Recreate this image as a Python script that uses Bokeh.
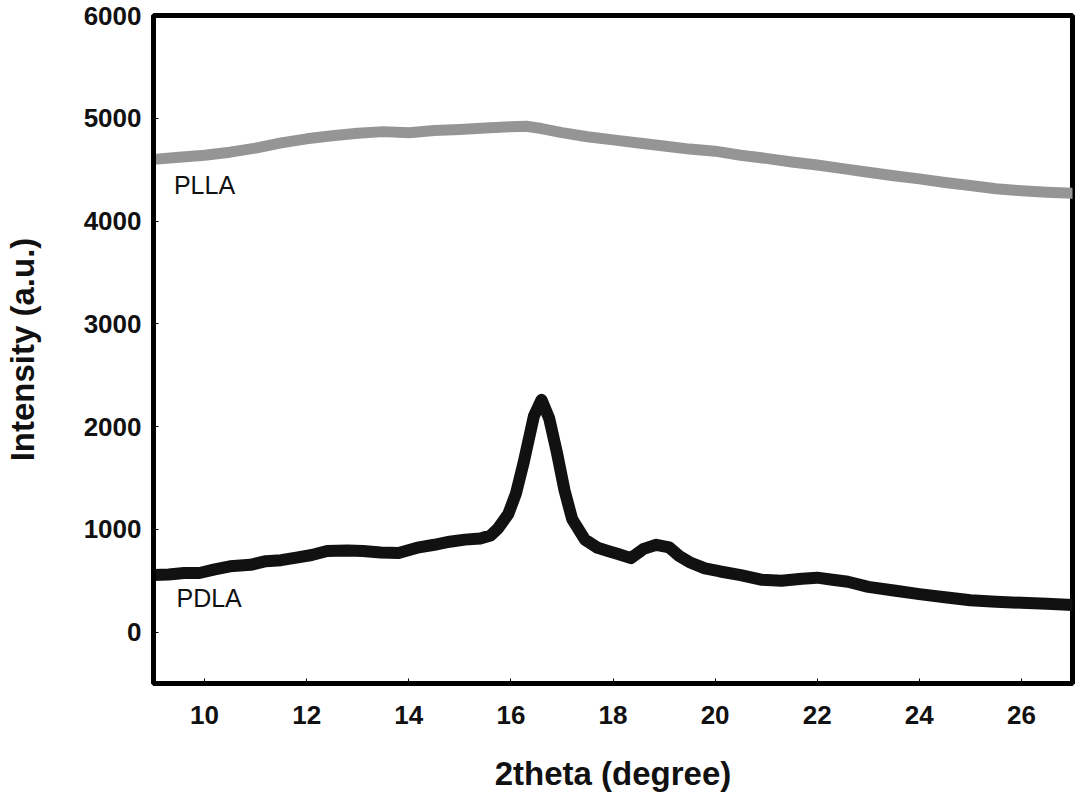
from bokeh.plotting import figure
from bokeh.models import Range1d, FixedTicker, Label
from bokeh.embed import file_html
from bokeh.resources import INLINE

# Data
plla_x = [9.0, 9.5, 10.0, 10.5, 11.0, 11.5, 12.0, 12.5, 13.0, 13.5, 14.0, 14.5, 15.0, 15.5,
          16.0, 16.3, 16.6, 17.0, 17.5, 18.0, 18.5, 19.0, 19.5, 20.0, 20.5, 21.0, 21.5, 22.0,
          22.5, 23.0, 23.5, 24.0, 24.5, 25.0, 25.5, 26.0, 26.5, 27.0]
plla_y = [4600, 4620, 4640, 4670, 4710, 4760, 4800, 4830, 4855, 4870, 4860, 4880, 4890, 4905,
          4918, 4922, 4900, 4860, 4820, 4790, 4760, 4730, 4700, 4680, 4640, 4610, 4575, 4545,
          4510, 4475, 4440, 4410, 4375, 4345, 4315, 4295, 4280, 4270]

pdla_x = [9.0, 9.3, 9.6, 9.9, 10.2, 10.5, 10.9, 11.2, 11.5, 11.8,
          12.1, 12.4, 12.8, 13.1, 13.45, 13.8, 14.2, 14.5, 14.8, 15.1,
          15.4, 15.6, 15.75, 15.95, 16.1, 16.25, 16.45, 16.6, 16.75, 16.9,
          17.05, 17.2, 17.45, 17.7, 17.9, 18.1, 18.35, 18.6, 18.85, 19.1,
          19.3, 19.5, 19.8, 20.1, 20.5, 20.9, 21.3, 21.7, 22.0, 22.3,
          22.6, 23.0, 23.5, 24.0, 24.5, 25.0, 25.5, 26.0, 26.5, 27.0]
pdla_y = [555, 560, 575, 575, 610, 640, 655, 690, 700, 725,
          750, 790, 795, 790, 775, 770, 825, 850, 880, 900,
          910, 940, 1010, 1150, 1350, 1650, 2100, 2260, 2080, 1750,
          1380, 1100, 900, 820, 790, 760, 720, 810, 850, 825,
          740, 680, 620, 590, 555, 510, 500, 520, 530, 510,
          490, 440, 405, 370, 340, 310, 295, 285, 275, 265]

x_ticks = [10, 12, 14, 16, 18, 20, 22, 24, 26]
y_ticks = [0, 1000, 2000, 3000, 4000, 5000, 6000]

FONT = "Liberation Sans"

p = figure(width=1076, height=795, output_backend="svg", toolbar_location=None,
           x_range=Range1d(9, 27), y_range=Range1d(-500, 6000),
           min_border_left=144, min_border_top=15, min_border_right=4, min_border_bottom=112)

p.line(plla_x, plla_y, line_color="#959595", line_width=11, line_join="round", line_cap="round")
p.line(pdla_x, pdla_y, line_color="#111111", line_width=12, line_join="round", line_cap="round")

p.add_layout(Label(x=9.4, y=4350, text="PLLA", text_font=FONT, text_font_size="25px",
                   text_baseline="middle", text_color="#111111"))
p.add_layout(Label(x=9.45, y=330, text="PDLA", text_font=FONT, text_font_size="25px",
                   text_baseline="middle", text_color="#111111"))

p.grid.visible = False
p.outline_line_color = "black"
p.outline_line_width = 5
p.outline_line_alpha = 1

for ax in (p.xaxis[0], p.yaxis[0]):
    ax.axis_line_width = 5
    ax.axis_line_color = "black"
    ax.major_tick_in = 5
    ax.major_tick_out = 0
    ax.major_tick_line_width = 1
    ax.minor_tick_line_color = None
    ax.major_label_text_font = FONT
    ax.major_label_text_font_style = "bold"
    ax.major_label_text_font_size = "26px"
    ax.major_label_text_color = "#111111"
    ax.axis_label_text_font = FONT
    ax.axis_label_text_font_style = "bold"
    ax.axis_label_text_font_size = "33px"
    ax.axis_label_text_color = "#111111"

p.xaxis[0].ticker = FixedTicker(ticks=x_ticks)
p.yaxis[0].ticker = FixedTicker(ticks=y_ticks)
p.xaxis[0].axis_label = "2theta (degree)"
p.yaxis[0].axis_label = "Intensity (a.u.)"
p.xaxis[0].major_label_standoff = 22
p.yaxis[0].major_label_standoff = 12
p.xaxis[0].axis_label_standoff = 28
p.yaxis[0].axis_label_standoff = 40

open("out.html", "w").write(file_html(p, INLINE))
